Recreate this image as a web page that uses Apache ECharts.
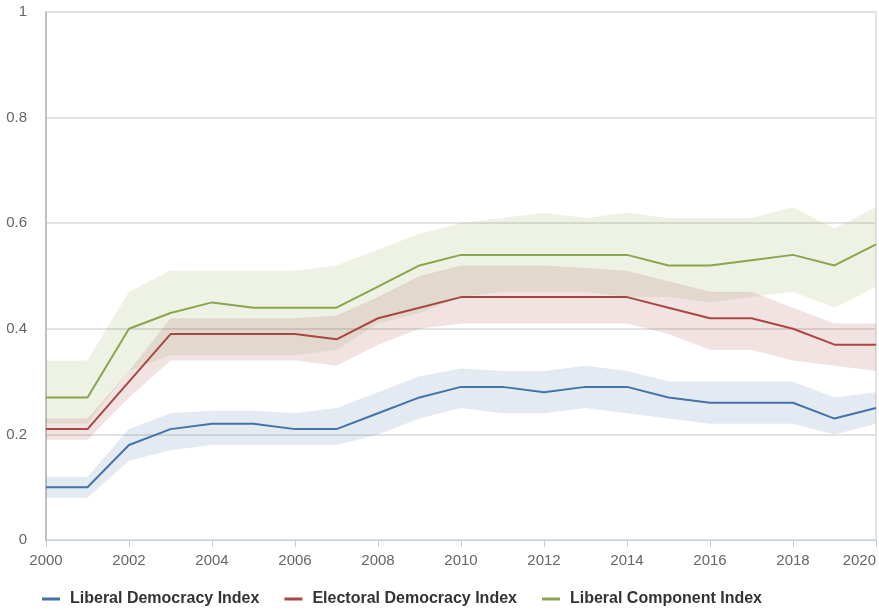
<!DOCTYPE html>
<html>
<head>
<meta charset="utf-8">
<script src="https://cdn.jsdelivr.net/npm/echarts@6/dist/echarts.min.js"></script>
<style>
  html, body { margin: 0; padding: 0; background: #fff; }
  #chart { width: 879px; height: 610px; }
</style>
</head>
<body>
<div id="chart"></div>
<script>
const years = ['2000','2001','2002','2003','2004','2005','2006','2007','2008','2009','2010',
  '2011','2012','2013','2014','2015','2016','2017','2018','2019','2020']

// Liberal Democracy Index
const ldi      = [0.10,0.10,0.18,0.21,0.22,0.22,0.21,0.21,0.24,0.27,0.29,0.29,0.28,0.29,0.29,0.27,0.26,0.26,0.26,0.23,0.25]
const ldiLow   = [0.08,0.08,0.15,0.17,0.18,0.18,0.18,0.18,0.20,0.23,0.25,0.24,0.24,0.25,0.24,0.23,0.22,0.22,0.22,0.20,0.22]
const ldiHigh  = [0.12,0.12,0.21,0.24,0.245,0.245,0.24,0.25,0.28,0.31,0.325,0.32,0.32,0.33,0.32,0.30,0.30,0.30,0.30,0.27,0.28]

// Electoral Democracy Index
const edi      = [0.21,0.21,0.30,0.39,0.39,0.39,0.39,0.38,0.42,0.44,0.46,0.46,0.46,0.46,0.46,0.44,0.42,0.42,0.40,0.37,0.37]
const ediLow   = [0.19,0.19,0.27,0.34,0.34,0.34,0.34,0.33,0.37,0.40,0.41,0.41,0.41,0.41,0.41,0.39,0.36,0.36,0.34,0.33,0.32]
const ediHigh  = [0.23,0.23,0.32,0.42,0.42,0.42,0.42,0.425,0.46,0.50,0.52,0.52,0.52,0.515,0.51,0.49,0.47,0.47,0.44,0.41,0.41]

// Liberal Component Index
const lci      = [0.27,0.27,0.40,0.43,0.45,0.44,0.44,0.44,0.48,0.52,0.54,0.54,0.54,0.54,0.54,0.52,0.52,0.53,0.54,0.52,0.56]
const lciLow   = [0.22,0.22,0.32,0.35,0.35,0.35,0.35,0.36,0.41,0.43,0.46,0.47,0.47,0.47,0.46,0.46,0.45,0.46,0.47,0.44,0.48]
const lciHigh  = [0.34,0.34,0.47,0.51,0.51,0.51,0.51,0.52,0.55,0.58,0.60,0.61,0.62,0.61,0.62,0.61,0.61,0.61,0.63,0.59,0.63]

const names = ['Liberal Democracy Index', 'Electoral Democracy Index', 'Liberal Component Index']
const colors = ['#4572A7', '#AA4643', '#89A54E']

// band = invisible lower series + stacked (high - low) filled series
function band(key, low, high, color) {
    return [
        {
            name: key + '-low',
            type: 'line',
            stack: key,
            data: low,
            symbol: 'none',
            lineStyle: { opacity: 0 },
            silent: true,
            z: 1
        },
        {
            name: key + '-range',
            type: 'line',
            stack: key,
            data: high.map((v, i) => +(v - low[i]).toFixed(4)),
            symbol: 'none',
            lineStyle: { opacity: 0 },
            areaStyle: { color: color, opacity: 0.15 },
            silent: true,
            z: 1
        }
    ]
}

function line(name, data, color) {
    return {
        name: name,
        type: 'line',
        data: data,
        symbol: 'none',
        lineStyle: { width: 2, color: color },
        itemStyle: { color: color },
        z: 5
    }
}

const option = {
    animation: false,
    grid: {
        left: 46,
        right: 3,
        top: 12,
        bottom: 70,
        outerBoundsMode: 'none',
        containLabel: false,
        show: true,
        borderColor: '#c8c8c8',
        borderWidth: 1
    },
    legend: {
        data: names,
        bottom: -2,
        left: 37,
        icon: 'rect',
        itemWidth: 18,
        itemHeight: 3,
        itemGap: 25,
        textStyle: {
            fontFamily: 'Liberation Sans',
            fontWeight: 'bold',
            fontSize: 16,
            color: '#333',
            padding: [0, 0, 0, 5]
        }
    },
    xAxis: {
        type: 'category',
        data: years,
        boundaryGap: false,
        axisLine: { lineStyle: { color: '#C0D0E0', width: 1 } },
        axisTick: { show: true, interval: 1, length: 7, lineStyle: { color: '#C0D0E0' } },
        axisLabel: {
            interval: 1,
            color: '#666',
            fontSize: 15,
            fontFamily: 'Liberation Sans',
            margin: 13,
            alignMaxLabel: 'right'
        },
        splitLine: { show: false }
    },
    yAxis: {
        type: 'value',
        min: 0,
        max: 1,
        interval: 0.2,
        axisLine: { show: true, lineStyle: { color: '#c0c0c0', width: 2 } },
        axisTick: { show: false },
        axisLabel: {
            color: '#666',
            fontSize: 15,
            fontFamily: 'Liberation Sans',
            margin: 19
        },
        splitLine: { lineStyle: { color: '#e2e2e2', width: 2 } }
    },
    series: [
        ...band('lci', lciLow, lciHigh, colors[2]),
        ...band('edi', ediLow, ediHigh, colors[1]),
        ...band('ldi', ldiLow, ldiHigh, colors[0]),
        line(names[0], ldi, colors[0]),
        line(names[1], edi, colors[1]),
        line(names[2], lci, colors[2])
    ]
}

const chart = echarts.init(document.getElementById('chart'))
chart.setOption(option)
</script>
</body>
</html>
